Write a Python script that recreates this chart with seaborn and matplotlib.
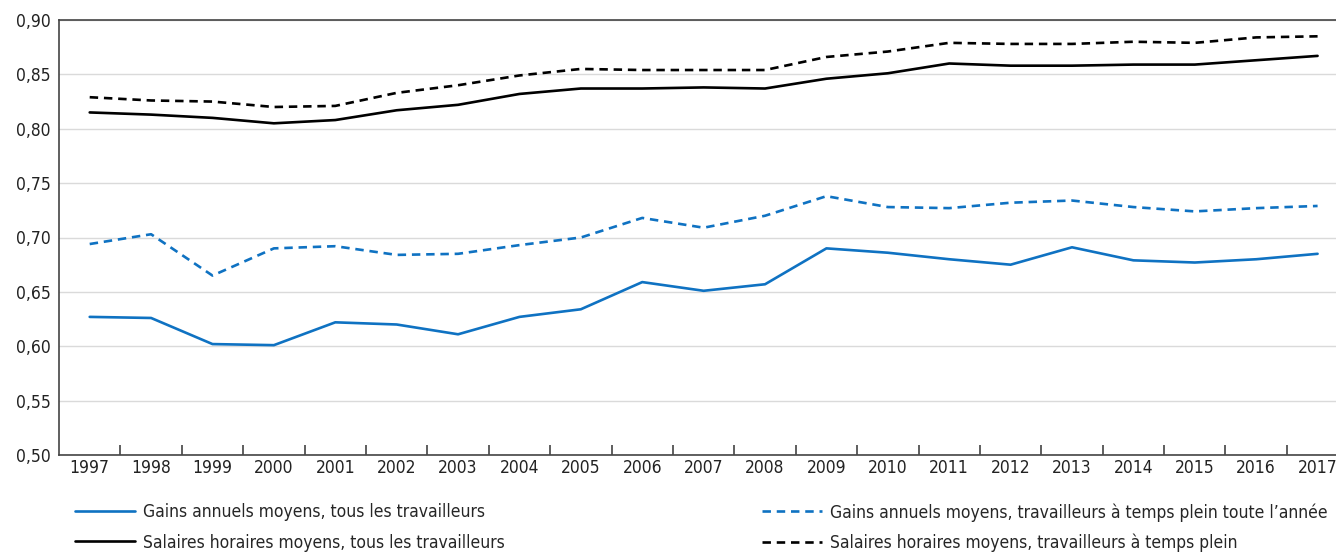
import numpy as np
import pandas as pd
import matplotlib
matplotlib.use('Agg')
import matplotlib.pyplot as plt
import seaborn as sns
from matplotlib import font_manager
from matplotlib.ticker import FixedLocator, FuncFormatter
from matplotlib.lines import Line2D

# Data
years = list(range(1997, 2018))
gains_tous = [0.627, 0.626, 0.602, 0.601, 0.622, 0.620, 0.611, 0.627, 0.634, 0.659, 0.651,
              0.657, 0.690, 0.686, 0.680, 0.675, 0.691, 0.679, 0.677, 0.680, 0.685]
gains_plein = [0.694, 0.703, 0.665, 0.690, 0.692, 0.684, 0.685, 0.693, 0.700, 0.718, 0.709,
               0.720, 0.738, 0.728, 0.727, 0.732, 0.734, 0.728, 0.724, 0.727, 0.729]
salaires_tous = [0.815, 0.813, 0.810, 0.805, 0.808, 0.817, 0.822, 0.832, 0.837, 0.837, 0.838,
                 0.837, 0.846, 0.851, 0.860, 0.858, 0.858, 0.859, 0.859, 0.863, 0.867]
salaires_plein = [0.829, 0.826, 0.825, 0.820, 0.821, 0.833, 0.840, 0.849, 0.855, 0.854, 0.854,
                  0.854, 0.866, 0.871, 0.879, 0.878, 0.878, 0.880, 0.879, 0.884, 0.885]

labels = ['Gains annuels moyens, tous les travailleurs',
          'Salaires horaires moyens, tous les travailleurs',
          'Gains annuels moyens, travailleurs à temps plein toute l’année',
          'Salaires horaires moyens, travailleurs à temps plein']

sns.set_style('white')
# a condensed face if one is installed, otherwise Roboto
cond = [f for f in font_manager.fontManager.ttflist
        if 'condensed' in str(f.stretch).lower() or 'Narrow' in f.name or 'Condensed' in f.name]
if cond:
    plt.rcParams['font.family'] = [cond[0].name, 'DejaVu Sans']
    plt.rcParams['font.stretch'] = 'condensed'
else:
    plt.rcParams['font.family'] = ['Roboto', 'DejaVu Sans']

blue = '#0F72C2'
series = [(gains_tous, blue, '-'), (salaires_tous, 'black', '-'),
          (gains_plein, blue, '--'), (salaires_plein, 'black', '--')]

fig = plt.figure(figsize=(13.36, 5.55), dpi=100)
ax = fig.add_axes([59 / 1336, 1 - 455 / 555, 1 - 59 / 1336, 435 / 555])

handles = []
for vals, col, ls in series:
    df = pd.DataFrame({'year': years, 'val': vals})
    sns.lineplot(data=df, x='year', y='val', ax=ax, color=col, linewidth=1.9,
                 linestyle=ls, dashes=False)
    h = Line2D([], [], color=col, linewidth=1.9, linestyle=ls)
    if ls == '--':
        ax.lines[-1].set_dashes((3.2, 2.2))
        h.set_dashes((3.2, 2.2))
    handles.append(h)

ax.set_xlim(1996.5, 2017.3)
ax.set_ylim(0.50, 0.90)
ax.set_yticks(np.arange(0.50, 0.901, 0.05))
ax.yaxis.set_major_formatter(FuncFormatter(lambda v, p: f'{v:.2f}'.replace('.', ',')))
ax.set_xticks(years)
ax.set_xticklabels([str(y) for y in years])
ax.xaxis.set_minor_locator(FixedLocator([y + 0.5 for y in years[:-1]]))
ax.tick_params(axis='x', which='major', bottom=True, length=0, pad=3, labelsize=12.5,
               colors='#222222')
ax.tick_params(axis='x', which='minor', bottom=True, length=7, direction='in', width=1.1,
               color='#333333')
ax.tick_params(axis='y', length=0, pad=6, labelsize=12.5, colors='#222222')
ax.set_xlabel('')
ax.set_ylabel('')
ax.grid(axis='y', color='#DADADA', linewidth=1)
ax.set_axisbelow(True)
for s in ['left', 'top', 'bottom']:
    ax.spines[s].set_color('#444444')
    ax.spines[s].set_linewidth(1.2)
ax.spines['right'].set_visible(False)

fs = 12.5 if cond else 11.5
leg_kw = dict(frameon=False, fontsize=fs, handlelength=43 / fs, handletextpad=0.45,
              labelspacing=0.72, borderaxespad=0, borderpad=0)
fig.legend(handles[:2], labels[:2], loc='upper left',
           bbox_to_anchor=(75 / 1336, 1 - 503 / 555), **leg_kw)
fig.legend(handles[2:], labels[2:], loc='upper left',
           bbox_to_anchor=(762 / 1336, 1 - 503 / 555), **leg_kw)

fig.savefig('out.png', dpi=100)
